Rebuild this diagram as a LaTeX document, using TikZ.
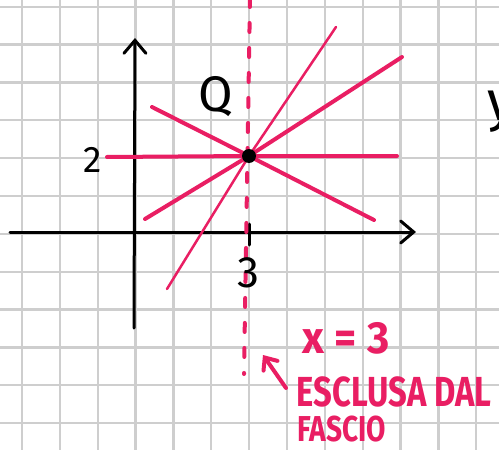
\documentclass[tikz,border=0pt]{standalone}
\usepackage{fontspec}
\setmainfont{Fira Sans}
\usetikzlibrary{arrows.meta}
\definecolor{pinkink}{RGB}{233,30,99}
\definecolor{gridgray}{RGB}{206,206,206}
\begin{document}
\begin{tikzpicture}[x=1pt,y=-1pt,
  gridline/.style={draw=gridgray,line width=2.3pt},
  axis/.style={draw=black,line width=3pt,line cap=round},
  pencil/.style={draw=pinkink,line width=4pt,line cap=round},
  thinpencil/.style={draw=pinkink,line width=2.5pt,line cap=round},
  dashpencil/.style={draw=pinkink,line width=4pt,line cap=round,dash pattern=on 9pt off 16pt},
  pinktext/.style={text=pinkink,inner sep=0pt},
  blacktext/.style={text=black,inner sep=0pt},
  barb/.style={-{Straight Barb[length=13pt,width=22pt,line cap=round]}}]
\useasboundingbox (0,0) rectangle (499,450);
\fill[white] (0,0) rectangle (499,450);
% grid paper
\foreach \i in {0,...,12} {
  \draw[gridline] ({22+\i*37.85},0) -- ({22+\i*37.85},450);
  \draw[gridline] (0,{6.7+\i*37.85}) -- (499,{6.7+\i*37.85});
}
% axes
\coordinate (xL) at (10,232);
\coordinate (xR) at (416,232);
\coordinate (yB) at (134,328);
\coordinate (yT) at (135,38);
\draw[axis,barb] (xL) -- (xR);
\draw[axis,barb] (yB) -- (yT);
% ticks
\coordinate (tyL) at (124,157);
\coordinate (tyR) at (142,157);
\coordinate (txT) at (249,224);
\coordinate (txB) at (249,245);
\draw[axis] (tyL) -- (tyR);
\draw[axis] (txT) -- (txB);
% pencil of lines through Q
\coordinate (Qc) at (249,156);
\coordinate (a1) at (107,157);
\coordinate (b1) at (397,156);
\coordinate (a2) at (152,107);
\coordinate (b2) at (374,220);
\coordinate (a3) at (145,219);
\coordinate (b3) at (402,57);
\coordinate (a4) at (167,289);
\coordinate (b4) at (336,27);
\draw[pencil] (a1) -- (Qc) -- (b1);
\draw[pencil] (a2) -- (Qc) -- (b2);
\draw[pencil] (a3) -- (Qc) -- (b3);
\draw[thinpencil] (a4) -- (Qc) -- (b4);
% excluded vertical line
\coordinate (dtop) at (250,-2);
\coordinate (dbot) at (244,374);
\draw[dashpencil] (dtop) -- (dbot);
% point Q
\node[circle,fill=black,inner sep=0pt,minimum size=14pt] (Q) at (Qc) {};
% labels
\node[blacktext,font=\fontsize{50}{50}\selectfont] (Qlbl) at (216,97) {Q};
\node[blacktext,font=\fontsize{37}{37}\selectfont] (two) at (93,160) {2};
\node[blacktext,font=\fontsize{44}{44}\selectfont] (three) at (248,273) {3};
\node[blacktext,font=\fontsize{56}{56}\selectfont,anchor=base west] (ylbl) at (487,120) {y};
\node[pinktext,font=\bfseries\fontsize{45}{45}\selectfont] (eq) at (346,338) {\scalebox{0.95}[1]{x = 3}};
\node[pinktext,font=\bfseries\fontsize{42}{42}\selectfont] (excl) at (394,392) {\scalebox{0.78}[1]{ESCLUSA DAL}};
\node[pinktext,font=\bfseries\fontsize{36}{36}\selectfont] (fascio) at (342,429) {\scalebox{0.78}[1]{FASCIO}};
% annotation arrow
\coordinate (arrS) at (286,388);
\coordinate (arrE) at (263,355);
\draw[pencil,-{Straight Barb[length=10pt,width=17pt,line cap=round]}] (arrS) -- (arrE);
\end{tikzpicture}
\end{document}
